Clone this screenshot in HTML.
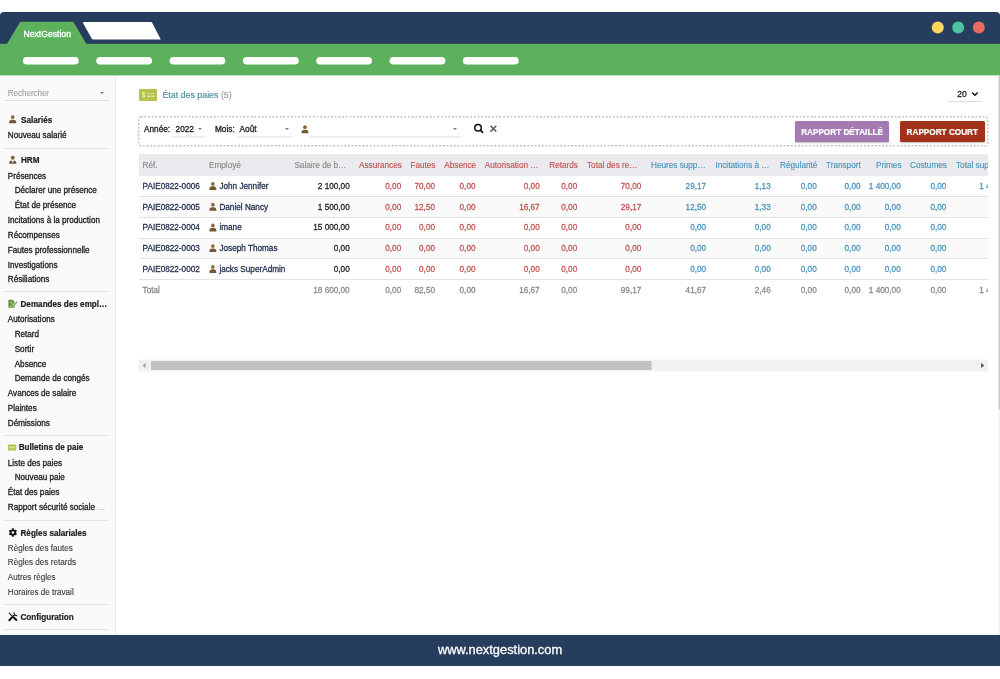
<!DOCTYPE html>
<html lang="fr"><head><meta charset="utf-8"><title>NextGestion - État des paies</title>
<style>
*{box-sizing:border-box;margin:0;padding:0}
html,body{width:1000px;height:679px;overflow:hidden;background:#fff}
body{position:relative;font-family:"Liberation Sans",sans-serif;font-size:8.25px;color:#222;-webkit-text-stroke:0.3px}
.abs{position:absolute}
.t{position:absolute;white-space:nowrap;line-height:12px;height:12px}
.r{text-align:right}
.b{font-weight:bold;font-size:8.15px;-webkit-text-stroke:0.2px;letter-spacing:0}
.hr{position:absolute;left:4px;width:104.5px;height:1px;background:#e4e4e4}
.red{color:#c25553}.blue{color:#4b94be}.gray{color:#8a8a8a}.navy{color:#1f2b4d}.dk{color:#222}
svg{position:absolute;overflow:visible}
</style></head><body>

<svg style="left:0;top:0" width="1000" height="80" viewBox="0 0 1000 80">
<path d="M0 44 L0 16 Q0 12 4 12 L996 12 Q1000 12 1000 16 L1000 44 Z" fill="#263d5d"/>
<rect x="0" y="43.8" width="1000" height="31.6" fill="#5db15d"/>
<path d="M6.9 44 L19.6 22.8 Q20.2 21.8 21.5 21.8 L72 21.8 Q73.3 21.8 73.9 22.8 L86.4 44 Z" fill="#5db15d"/>
<path d="M83.6 22 L150.8 22 Q151.8 22 152.3 22.9 L160.8 39.5 L93.2 39.5 Q92.2 39.5 91.7 38.6 L83 23 Q82.6 22 83.6 22 Z" fill="#fff"/>
<circle cx="937.8" cy="27.6" r="6" fill="#fdd55e"/>
<circle cx="958.2" cy="27.6" r="6" fill="#4ec3a0"/>
<circle cx="978.8" cy="27.6" r="6" fill="#ec6a5e"/>
</svg>
<div class="t" style="left:23.5px;top:27.5px;color:#fff;font-size:8.65px">NextGestion</div>
<svg style="left:0;top:50px" width="1000" height="20" viewBox="0 50 1000 20"><rect x="22.90" y="56.9" width="55.8" height="7.6" rx="3.8" fill="#fff"/><rect x="96.23" y="56.9" width="55.8" height="7.6" rx="3.8" fill="#fff"/><rect x="169.56" y="56.9" width="55.8" height="7.6" rx="3.8" fill="#fff"/><rect x="242.89" y="56.9" width="55.8" height="7.6" rx="3.8" fill="#fff"/><rect x="316.22" y="56.9" width="55.8" height="7.6" rx="3.8" fill="#fff"/><rect x="389.55" y="56.9" width="55.8" height="7.6" rx="3.8" fill="#fff"/><rect x="462.88" y="56.9" width="55.8" height="7.6" rx="3.8" fill="#fff"/></svg>
<div class="abs" style="left:0;top:75.5px;width:115.6px;height:559.5px;background:#fafafa;border-right:1px solid #e9e9e9"></div>
<div class="t" style="left:7.8px;top:88px;color:#a0a0a0;-webkit-text-stroke:0.1px;font-size:8.15px;letter-spacing:-0.08px">Rechercher</div>
<div class="abs" style="left:99.5px;top:91.8px;width:0;height:0;border-left:2.3px solid transparent;border-right:2.3px solid transparent;border-top:2.6px solid #777"></div>
<div class="abs" style="left:4.5px;top:100px;width:104px;height:1px;background:#dcdcdc"></div>
<svg style="left:9px;top:115px" width="12" height="12" viewBox="0 0 12 12"><g transform="translate(0.00 0.10) scale(0.99)"><circle cx="3.75" cy="2.0" r="1.95" fill="#8a6840"/><path d="M0.15 8.3V7.2C0.15 5.6 1.3 4.6 2.9 4.6H4.6C6.2 4.6 7.35 5.6 7.35 7.2V8.3Z" fill="#755734"/></g></svg>
<div class="t b" style="left:21px;top:115.0px;color:#222">Salariés</div>
<div class="t" style="left:7.8px;top:130.0px;color:#222;font-size:8.15px">Nouveau salarié</div>
<div class="hr" style="top:147.5px"></div>
<svg style="left:9px;top:155px" width="12" height="12" viewBox="0 0 12 12"><g transform="translate(0.10 0.80) scale(0.98)"><circle cx="3.75" cy="2.0" r="1.95" fill="#7d6447"/><path d="M0.15 8.2V7.2C0.15 5.7 1.2 4.8 2.6 4.7L3.75 7.3L4.9 4.7C6.3 4.8 7.35 5.7 7.35 7.2V8.2Z" fill="#6a5640"/></g></svg>
<div class="t b" style="left:21px;top:155.0px;color:#222">HRM</div>
<div class="t" style="left:7.8px;top:171.0px;color:#222;font-size:8.15px">Présences</div>
<div class="t" style="left:14.7px;top:185.0px;color:#222;font-size:8.15px">Déclarer une présence</div>
<div class="t" style="left:14.7px;top:200.0px;color:#222;font-size:8.15px">État de présence</div>
<div class="t" style="left:7.8px;top:215.0px;color:#222;font-size:8.15px">Incitations à la production</div>
<div class="t" style="left:7.8px;top:230.0px;color:#222;font-size:8.15px">Récompenses</div>
<div class="t" style="left:7.8px;top:245.0px;color:#222;font-size:8.15px">Fautes professionnelle</div>
<div class="t" style="left:7.8px;top:260.0px;color:#222;font-size:8.15px">Investigations</div>
<div class="t" style="left:7.8px;top:274.0px;color:#222;font-size:8.15px">Résiliations</div>
<div class="hr" style="top:290.8px"></div>
<svg style="left:8px;top:299px" width="12" height="11" viewBox="0 0 12 11"><g transform="translate(0.35 0.7)"><path d="M0 0.4Q0 0 0.4 0H4.2L6.2 2V7.6Q6.2 8 5.8 8H0.4Q0 8 0 7.6Z" fill="#66983b"/><path d="M1.3 6.5H4.6" stroke="#c9ddb0" stroke-width="0.7"/><path d="M1.6 2.3L3.3 2.3L3 4.6" stroke="#a9c98a" stroke-width="0.8" fill="none"/><path d="M9.2 1.6L4.7 6.3" stroke="#fafafa" stroke-width="2.3"/><path d="M9 2L5 6.2L4.4 6.9" stroke="#6d9450" stroke-width="1.15" fill="none"/></g></svg>
<div class="t b" style="left:20.5px;top:299.0px;color:#222">Demandes des empl…</div>
<div class="t" style="left:7.8px;top:314.0px;color:#222;font-size:8.15px">Autorisations</div>
<div class="t" style="left:14.7px;top:329.0px;color:#222;font-size:8.15px">Retard</div>
<div class="t" style="left:14.7px;top:344.0px;color:#222;font-size:8.15px">Sortir</div>
<div class="t" style="left:14.7px;top:359.0px;color:#222;font-size:8.15px">Absence</div>
<div class="t" style="left:14.7px;top:373.0px;color:#222;font-size:8.15px">Demande de congés</div>
<div class="t" style="left:7.8px;top:388.0px;color:#222;font-size:8.15px">Avances de salaire</div>
<div class="t" style="left:7.8px;top:403.0px;color:#222;font-size:8.15px">Plaintes</div>
<div class="t" style="left:7.8px;top:418.0px;color:#222;font-size:8.15px">Démissions</div>
<div class="hr" style="top:434.8px"></div>
<svg style="left:7px;top:444px" width="12" height="8" viewBox="0 0 12 8"><rect x="0.9" y="0.5" width="8.4" height="6.1" rx="0.8" fill="#b5c04f"/><rect x="2.1" y="2.5" width="6" height="1.9" fill="#d9df9c"/><rect x="2.1" y="4.9" width="6" height="0.5" fill="#c6ce74"/></svg>
<div class="t b" style="left:18.7px;top:442.0px;color:#222">Bulletins de paie</div>
<div class="t" style="left:7.8px;top:458.0px;color:#222;font-size:8.15px">Liste des paies</div>
<div class="t" style="left:14.7px;top:472.0px;color:#222;font-size:8.15px">Nouveau paie</div>
<div class="t" style="left:7.8px;top:487.0px;color:#222;font-size:8.15px">État des paies</div>
<div class="t" style="left:7.8px;top:502.0px;color:#222;font-size:8.15px">Rapport sécurité sociale <span style="color:#8a8a8a;-webkit-text-stroke:0">…</span></div>
<div class="hr" style="top:520.0px"></div>
<svg style="left:8px;top:528px" width="10" height="10" viewBox="-4.9 -4.5 10 10"><g fill="#111"><circle r="3.1"/>
<rect x="-1" y="-4.2" width="2" height="8.4" rx="0.4"/><rect x="-1" y="-4.2" width="2" height="8.4" rx="0.4" transform="rotate(60)"/><rect x="-1" y="-4.2" width="2" height="8.4" rx="0.4" transform="rotate(120)"/></g><circle r="1.35" fill="#f9f9f9"/></svg>
<div class="t b" style="left:20.5px;top:528.0px;color:#222">Règles salariales</div>
<div class="t" style="left:7.8px;top:543.0px;color:#3c3c3c;-webkit-text-stroke:0.12px;font-size:8.15px">Règles des fautes</div>
<div class="t" style="left:7.8px;top:557.0px;color:#3c3c3c;-webkit-text-stroke:0.12px;font-size:8.15px">Règles des retards</div>
<div class="t" style="left:7.8px;top:572.0px;color:#3c3c3c;-webkit-text-stroke:0.12px;font-size:8.15px">Autres règles</div>
<div class="t" style="left:7.8px;top:587.0px;color:#3c3c3c;-webkit-text-stroke:0.12px;font-size:8.15px">Horaires de travail</div>
<div class="hr" style="top:604.0px"></div>
<svg style="left:8px;top:612px" width="11" height="10" viewBox="0 0 11 10"><g fill="none" stroke="#161616" stroke-linecap="round"><path d="M1.2 1.1L4.3 4.2" stroke-width="1.1"/><path d="M6 5.7L8.3 8" stroke-width="2"/><path d="M1.3 8.2L3.9 5.5" stroke-width="2"/><path d="M3.9 5.5L6.2 3.3" stroke-width="1.3"/><path d="M6.1 0.9A2.3 2.3 0 0 0 8.7 3.6" stroke-width="1.2"/></g></svg>
<div class="t b" style="left:20.5px;top:612.0px;color:#222">Configuration</div>
<div class="hr" style="top:629.0px"></div>
<div class="abs" style="left:0;top:634.6px;width:1000px;height:31.4px;background:#263d5d"></div>
<div class="t" style="left:0;width:1000px;text-align:center;top:642.3px;line-height:16px;height:16px;color:#fff;font-size:12.85px">www.nextgestion.com</div>
<svg style="left:990px;top:0" width="10" height="679" viewBox="990 0 10 679"><rect x="998.3" y="75.4" width="1.7" height="559.2" fill="#f1f1f1"/><rect x="998.8" y="75.4" width="1.2" height="334" fill="#c6c6c6"/></svg>
<svg style="left:138.6px;top:89px" width="18" height="12" viewBox="0 0 18 12"><rect width="18" height="12" rx="1" fill="#b7c24c"/><text x="2.7" y="8.4" font-family="Liberation Sans, sans-serif" font-size="6.6" font-weight="bold" fill="#e9edc4">$</text><rect x="8.2" y="4.1" width="7.3" height="0.8" fill="#dfe5a8"/><rect x="8.2" y="6.6" width="3.2" height="1.3" fill="#edf0cf"/><rect x="12.3" y="6.6" width="3.2" height="1.3" fill="#edf0cf"/></svg>
<div class="t" style="left:162.4px;top:89px;font-size:8.85px;color:#4f8f9d;-webkit-text-stroke:0.15px">État des paies <span style="color:#a0a0a0">(5)</span></div>
<div class="t" style="left:957.3px;top:87.5px;font-size:8.5px;color:#222">20</div>
<svg style="left:968px;top:88px" width="14" height="12" viewBox="968 88 14 12"><path d="M972.1 92.5L974.9 95.2L977.7 92.5" stroke="#111" stroke-width="1.5" fill="none"/></svg>
<div class="abs" style="left:947.5px;top:101px;width:34px;height:1px;background:#dcdcdc"></div>
<svg style="left:0;top:0" width="1000" height="160"><rect x="138.8" y="116.9" width="849" height="28.9" rx="2" fill="none" stroke="#999" stroke-width="0.9" stroke-dasharray="1.9 1.76"/></svg>
<div class="t" style="left:144px;top:124px;color:#222">Année:</div>
<div class="t" style="left:175.6px;top:124px;color:#222">2022</div>
<div class="abs" style="left:197.5px;top:128.2px;width:0;height:0;border-left:2.1px solid transparent;border-right:2.1px solid transparent;border-top:2.4px solid #777"></div>
<svg style="left:0;top:130px" width="1000" height="10" viewBox="0 130 1000 10"><rect x="172.4" y="136.4" width="33.2" height="1" fill="#dedede"/></svg>
<div class="t" style="left:215px;top:124px;color:#222">Mois:</div>
<div class="t" style="left:239.6px;top:124px;color:#222">Août</div>
<div class="abs" style="left:284.9px;top:128.2px;width:0;height:0;border-left:2.1px solid transparent;border-right:2.1px solid transparent;border-top:2.4px solid #777"></div>
<svg style="left:0;top:130px" width="1000" height="10" viewBox="0 130 1000 10"><rect x="237" y="136.4" width="55" height="1" fill="#dedede"/></svg>
<svg style="left:301px;top:125px" width="12" height="12" viewBox="0 0 12 12"><g transform="translate(0.40 0.30) scale(0.95)"><circle cx="3.75" cy="2.0" r="1.95" fill="#8a6840"/><path d="M0.15 8.3V7.2C0.15 5.6 1.3 4.6 2.9 4.6H4.6C6.2 4.6 7.35 5.6 7.35 7.2V8.3Z" fill="#755734"/></g></svg>
<svg style="left:0;top:130px" width="1000" height="10" viewBox="0 130 1000 10"><rect x="309" y="136.4" width="152" height="1" fill="#dedede"/></svg>
<div class="abs" style="left:452.7px;top:128.2px;width:0;height:0;border-left:2.1px solid transparent;border-right:2.1px solid transparent;border-top:2.4px solid #777"></div>
<svg style="left:470px;top:120px" width="16" height="16" viewBox="470 120 16 16"><circle cx="478" cy="127.7" r="3.25" stroke="#111" stroke-width="1.5" fill="none"/><path d="M480.6 130.3L482.6 132.3" stroke="#111" stroke-width="1.7" stroke-linecap="round"/></svg>
<svg style="left:486px;top:120px" width="16" height="16" viewBox="486 120 16 16"><path d="M490.5 125.8L496.3 131.6M496.3 125.8L490.5 131.6" stroke="#5c5c5c" stroke-width="1.5"/></svg>
<div class="abs b" style="left:795px;top:121px;width:94px;height:21px;background:#a57ab3;border-radius:1.5px;color:#fff;text-align:center;line-height:23px;font-size:8.2px;letter-spacing:0;box-shadow:0 1px 1.5px rgba(0,0,0,.25)">RAPPORT DÉTAILLÉ</div>
<div class="abs b" style="left:900px;top:121px;width:84.6px;height:21px;background:#a2331a;border-radius:1.5px;color:#fff;text-align:center;line-height:23px;font-size:8.2px;letter-spacing:0;box-shadow:0 1px 1.5px rgba(0,0,0,.25)">RAPPORT COURT</div>
<div class="abs" style="left:138.5px;top:153.9px;width:849.1px;height:22.4px;background:#ebebef"></div>
<div class="abs" style="left:138.5px;top:176.30px;width:849.1px;height:20.75px;background:#fff;border-bottom:1px solid #e3e3e3"></div>
<div class="abs" style="left:138.5px;top:197.05px;width:849.1px;height:20.75px;background:#fafafa;border-bottom:1px solid #e3e3e3"></div>
<div class="abs" style="left:138.5px;top:217.80px;width:849.1px;height:20.75px;background:#fff;border-bottom:1px solid #e3e3e3"></div>
<div class="abs" style="left:138.5px;top:238.55px;width:849.1px;height:20.75px;background:#fafafa;border-bottom:1px solid #e3e3e3"></div>
<div class="abs" style="left:138.5px;top:259.30px;width:849.1px;height:20.75px;background:#fff;border-bottom:1px solid #e3e3e3"></div>
<div class="abs" style="left:138.5px;top:0;width:849.1px;height:400px;overflow:hidden;font-size:8.2px;-webkit-text-stroke:0.26px">
<div class="t gray" style="left:4.1px;top:160.0px;-webkit-text-stroke:0.15px">Réf.</div>
<div class="t gray" style="left:70.5px;top:160.0px;-webkit-text-stroke:0.15px">Employé</div>
<div class="t gray" style="left:155.9px;top:160.0px;-webkit-text-stroke:0.15px">Salaire de b…</div>
<div class="t red" style="left:220.5px;top:160.0px;-webkit-text-stroke:0.15px">Assurances</div>
<div class="t red" style="left:271.9px;top:160.0px;-webkit-text-stroke:0.15px">Fautes</div>
<div class="t red" style="left:305.8px;top:160.0px;-webkit-text-stroke:0.15px">Absence</div>
<div class="t red" style="left:346.3px;top:160.0px;-webkit-text-stroke:0.15px">Autorisation …</div>
<div class="t red" style="left:410.8px;top:160.0px;-webkit-text-stroke:0.15px">Retards</div>
<div class="t red" style="left:448.5px;top:160.0px;-webkit-text-stroke:0.15px">Total des re…</div>
<div class="t blue" style="left:512.5px;top:160.0px;-webkit-text-stroke:0.15px">Heures supp…</div>
<div class="t blue" style="left:576.9px;top:160.0px;-webkit-text-stroke:0.15px">Incitations à …</div>
<div class="t blue" style="left:641.5px;top:160.0px;-webkit-text-stroke:0.15px">Régularité</div>
<div class="t blue" style="left:687.5px;top:160.0px;-webkit-text-stroke:0.15px">Transport</div>
<div class="t blue" style="left:737.5px;top:160.0px;-webkit-text-stroke:0.15px">Primes</div>
<div class="t blue" style="left:771.5px;top:160.0px;-webkit-text-stroke:0.15px">Costumes</div>
<div class="t blue" style="left:817.5px;top:160.0px;-webkit-text-stroke:0.15px">Total sup</div>
<div class="t navy" style="left:4.1px;top:181.0px">PAIE0822-0006</div>
<svg style="left:70px;top:182px" width="12" height="12" viewBox="0 0 12 12"><g transform="translate(0.30 0.00) scale(0.95)"><circle cx="3.75" cy="2.0" r="1.95" fill="#8a6840"/><path d="M0.15 8.3V7.2C0.15 5.6 1.3 4.6 2.9 4.6H4.6C6.2 4.6 7.35 5.6 7.35 7.2V8.3Z" fill="#755734"/></g></svg>
<div class="t navy" style="left:80.9px;top:181.0px">John Jennifer</div>
<div class="t r dk" style="left:111.2px;width:100px;top:181.0px">2 100,00</div>
<div class="t r red" style="left:162.7px;width:100px;top:181.0px">0,00</div>
<div class="t r red" style="left:196.5px;width:100px;top:181.0px">70,00</div>
<div class="t r red" style="left:237.0px;width:100px;top:181.0px">0,00</div>
<div class="t r red" style="left:301.2px;width:100px;top:181.0px">0,00</div>
<div class="t r red" style="left:338.7px;width:100px;top:181.0px">0,00</div>
<div class="t r red" style="left:402.8px;width:100px;top:181.0px">70,00</div>
<div class="t r blue" style="left:467.6px;width:100px;top:181.0px">29,17</div>
<div class="t r blue" style="left:532.2px;width:100px;top:181.0px">1,13</div>
<div class="t r blue" style="left:578.2px;width:100px;top:181.0px">0,00</div>
<div class="t r blue" style="left:622.0px;width:100px;top:181.0px">0,00</div>
<div class="t r blue" style="left:662.2px;width:100px;top:181.0px">1 400,00</div>
<div class="t r blue" style="left:707.9px;width:100px;top:181.0px">0,00</div>
<div class="t blue" style="left:840.7px;top:181.0px">1 4</div>
<div class="t navy" style="left:4.1px;top:202.0px">PAIE0822-0005</div>
<svg style="left:70px;top:202px" width="12" height="12" viewBox="0 0 12 12"><g transform="translate(0.30 0.80) scale(0.95)"><circle cx="3.75" cy="2.0" r="1.95" fill="#8a6840"/><path d="M0.15 8.3V7.2C0.15 5.6 1.3 4.6 2.9 4.6H4.6C6.2 4.6 7.35 5.6 7.35 7.2V8.3Z" fill="#755734"/></g></svg>
<div class="t navy" style="left:80.9px;top:202.0px">Daniel Nancy</div>
<div class="t r dk" style="left:111.2px;width:100px;top:202.0px">1 500,00</div>
<div class="t r red" style="left:162.7px;width:100px;top:202.0px">0,00</div>
<div class="t r red" style="left:196.5px;width:100px;top:202.0px">12,50</div>
<div class="t r red" style="left:237.0px;width:100px;top:202.0px">0,00</div>
<div class="t r red" style="left:301.2px;width:100px;top:202.0px">16,67</div>
<div class="t r red" style="left:338.7px;width:100px;top:202.0px">0,00</div>
<div class="t r red" style="left:402.8px;width:100px;top:202.0px">29,17</div>
<div class="t r blue" style="left:467.6px;width:100px;top:202.0px">12,50</div>
<div class="t r blue" style="left:532.2px;width:100px;top:202.0px">1,33</div>
<div class="t r blue" style="left:578.2px;width:100px;top:202.0px">0,00</div>
<div class="t r blue" style="left:622.0px;width:100px;top:202.0px">0,00</div>
<div class="t r blue" style="left:662.2px;width:100px;top:202.0px">0,00</div>
<div class="t r blue" style="left:707.9px;width:100px;top:202.0px">0,00</div>
<div class="t navy" style="left:4.1px;top:222.0px">PAIE0822-0004</div>
<svg style="left:70px;top:223px" width="12" height="12" viewBox="0 0 12 12"><g transform="translate(0.30 0.50) scale(0.95)"><circle cx="3.75" cy="2.0" r="1.95" fill="#8a6840"/><path d="M0.15 8.3V7.2C0.15 5.6 1.3 4.6 2.9 4.6H4.6C6.2 4.6 7.35 5.6 7.35 7.2V8.3Z" fill="#755734"/></g></svg>
<div class="t navy" style="left:80.9px;top:222.0px">imane</div>
<div class="t r dk" style="left:111.2px;width:100px;top:222.0px">15 000,00</div>
<div class="t r red" style="left:162.7px;width:100px;top:222.0px">0,00</div>
<div class="t r red" style="left:196.5px;width:100px;top:222.0px">0,00</div>
<div class="t r red" style="left:237.0px;width:100px;top:222.0px">0,00</div>
<div class="t r red" style="left:301.2px;width:100px;top:222.0px">0,00</div>
<div class="t r red" style="left:338.7px;width:100px;top:222.0px">0,00</div>
<div class="t r red" style="left:402.8px;width:100px;top:222.0px">0,00</div>
<div class="t r blue" style="left:467.6px;width:100px;top:222.0px">0,00</div>
<div class="t r blue" style="left:532.2px;width:100px;top:222.0px">0,00</div>
<div class="t r blue" style="left:578.2px;width:100px;top:222.0px">0,00</div>
<div class="t r blue" style="left:622.0px;width:100px;top:222.0px">0,00</div>
<div class="t r blue" style="left:662.2px;width:100px;top:222.0px">0,00</div>
<div class="t r blue" style="left:707.9px;width:100px;top:222.0px">0,00</div>
<div class="t navy" style="left:4.1px;top:243.0px">PAIE0822-0003</div>
<svg style="left:70px;top:244px" width="12" height="12" viewBox="0 0 12 12"><g transform="translate(0.30 0.20) scale(0.95)"><circle cx="3.75" cy="2.0" r="1.95" fill="#8a6840"/><path d="M0.15 8.3V7.2C0.15 5.6 1.3 4.6 2.9 4.6H4.6C6.2 4.6 7.35 5.6 7.35 7.2V8.3Z" fill="#755734"/></g></svg>
<div class="t navy" style="left:80.9px;top:243.0px">Joseph Thomas</div>
<div class="t r dk" style="left:111.2px;width:100px;top:243.0px">0,00</div>
<div class="t r red" style="left:162.7px;width:100px;top:243.0px">0,00</div>
<div class="t r red" style="left:196.5px;width:100px;top:243.0px">0,00</div>
<div class="t r red" style="left:237.0px;width:100px;top:243.0px">0,00</div>
<div class="t r red" style="left:301.2px;width:100px;top:243.0px">0,00</div>
<div class="t r red" style="left:338.7px;width:100px;top:243.0px">0,00</div>
<div class="t r red" style="left:402.8px;width:100px;top:243.0px">0,00</div>
<div class="t r blue" style="left:467.6px;width:100px;top:243.0px">0,00</div>
<div class="t r blue" style="left:532.2px;width:100px;top:243.0px">0,00</div>
<div class="t r blue" style="left:578.2px;width:100px;top:243.0px">0,00</div>
<div class="t r blue" style="left:622.0px;width:100px;top:243.0px">0,00</div>
<div class="t r blue" style="left:662.2px;width:100px;top:243.0px">0,00</div>
<div class="t r blue" style="left:707.9px;width:100px;top:243.0px">0,00</div>
<div class="t navy" style="left:4.1px;top:264.0px">PAIE0822-0002</div>
<svg style="left:70px;top:265px" width="12" height="12" viewBox="0 0 12 12"><g transform="translate(0.30 0.00) scale(0.95)"><circle cx="3.75" cy="2.0" r="1.95" fill="#8a6840"/><path d="M0.15 8.3V7.2C0.15 5.6 1.3 4.6 2.9 4.6H4.6C6.2 4.6 7.35 5.6 7.35 7.2V8.3Z" fill="#755734"/></g></svg>
<div class="t navy" style="left:80.9px;top:264.0px">jacks SuperAdmin</div>
<div class="t r dk" style="left:111.2px;width:100px;top:264.0px">0,00</div>
<div class="t r red" style="left:162.7px;width:100px;top:264.0px">0,00</div>
<div class="t r red" style="left:196.5px;width:100px;top:264.0px">0,00</div>
<div class="t r red" style="left:237.0px;width:100px;top:264.0px">0,00</div>
<div class="t r red" style="left:301.2px;width:100px;top:264.0px">0,00</div>
<div class="t r red" style="left:338.7px;width:100px;top:264.0px">0,00</div>
<div class="t r red" style="left:402.8px;width:100px;top:264.0px">0,00</div>
<div class="t r blue" style="left:467.6px;width:100px;top:264.0px">0,00</div>
<div class="t r blue" style="left:532.2px;width:100px;top:264.0px">0,00</div>
<div class="t r blue" style="left:578.2px;width:100px;top:264.0px">0,00</div>
<div class="t r blue" style="left:622.0px;width:100px;top:264.0px">0,00</div>
<div class="t r blue" style="left:662.2px;width:100px;top:264.0px">0,00</div>
<div class="t r blue" style="left:707.9px;width:100px;top:264.0px">0,00</div>
<div class="t gray" style="left:4.1px;top:285.0px">Total</div>
<div class="t r gray" style="left:111.2px;width:100px;top:285.0px">18 600,00</div>
<div class="t r gray" style="left:162.7px;width:100px;top:285.0px">0,00</div>
<div class="t r gray" style="left:196.5px;width:100px;top:285.0px">82,50</div>
<div class="t r gray" style="left:237.0px;width:100px;top:285.0px">0,00</div>
<div class="t r gray" style="left:301.2px;width:100px;top:285.0px">16,67</div>
<div class="t r gray" style="left:338.7px;width:100px;top:285.0px">0,00</div>
<div class="t r gray" style="left:402.8px;width:100px;top:285.0px">99,17</div>
<div class="t r gray" style="left:467.6px;width:100px;top:285.0px">41,67</div>
<div class="t r gray" style="left:532.2px;width:100px;top:285.0px">2,46</div>
<div class="t r gray" style="left:578.2px;width:100px;top:285.0px">0,00</div>
<div class="t r gray" style="left:622.0px;width:100px;top:285.0px">0,00</div>
<div class="t r gray" style="left:662.2px;width:100px;top:285.0px">1 400,00</div>
<div class="t r gray" style="left:707.9px;width:100px;top:285.0px">0,00</div>
<div class="t gray" style="left:840.7px;top:285.0px">1 4</div>
</div>
<svg style="left:0;top:350px" width="1000" height="30" viewBox="0 350 1000 30"><rect x="138.4" y="359.6" width="849.6" height="11.8" fill="#f1f1f1"/><rect x="151" y="361" width="500.6" height="9" fill="#c1c1c1"/><path d="M142.4 365.5L145.6 363V368Z" fill="#a3a3a3"/><path d="M984.3 365.5L981.1 363V368Z" fill="#505050"/></svg>
</body></html>
